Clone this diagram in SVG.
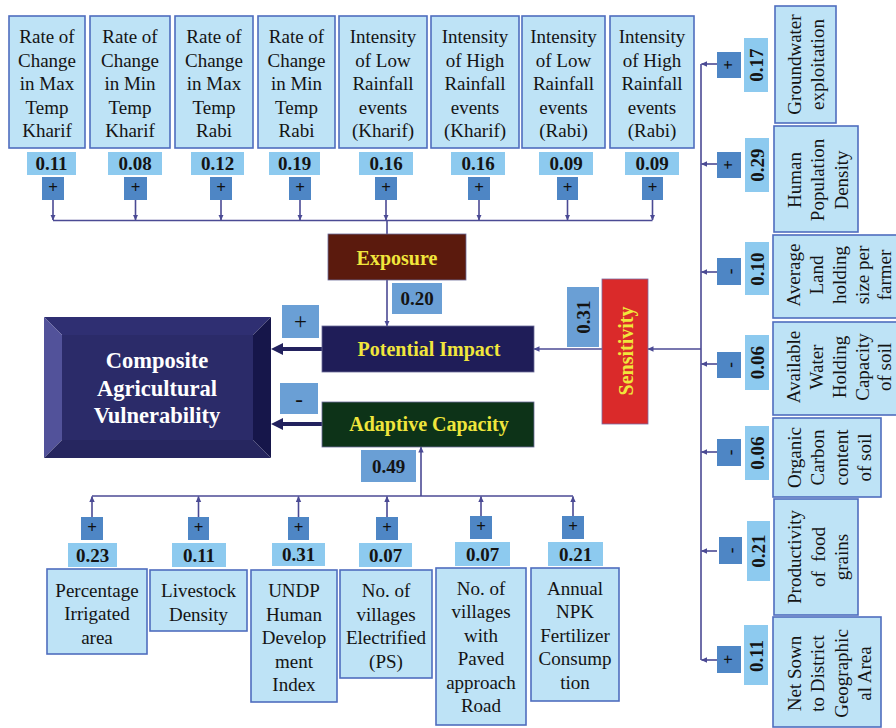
<svg xmlns="http://www.w3.org/2000/svg" width="896" height="728" viewBox="0 0 896 728">
  <defs>
    <style>
      .box { fill: #bee3f6; stroke: #4f6dbf; stroke-width: 1.6; }
      .w { fill: #8dcaef; }
      .sg { fill: #4e86c5; }
      .md { fill: #6a9fd5; }
      .t { font-family: "Liberation Serif", "Times New Roman", serif; font-size: 19px; fill: #141414; text-anchor: middle; }
      .b { font-weight: bold; }
      .sgt { font-family: "Liberation Serif", "Times New Roman", serif; font-size: 17px; font-weight: bold; fill: #111; text-anchor: middle; }
      .hd { font-family: "Liberation Serif", "Times New Roman", serif; font-size: 20px; font-weight: bold; fill: #f0e63c; text-anchor: middle; }
      .conn { stroke: #4b4a94; stroke-width: 1.6; fill: none; }
      .thick { stroke: #23225e; stroke-width: 4; fill: none; }
    </style>
    <marker id="tip" markerUnits="userSpaceOnUse" markerWidth="6" markerHeight="6" refX="5.5" refY="3" orient="auto">
      <path d="M0,0.3 L6,3 L0,5.7 z" fill="#4b4a94"/>
    </marker>
    <marker id="bigtip" markerUnits="userSpaceOnUse" markerWidth="13" markerHeight="13" refX="3" refY="6" orient="auto">
      <path d="M0,0 L12,6 L0,12 z" fill="#23225e"/>
    </marker>
  </defs>

  <rect width="896" height="728" fill="#ffffff"/>

  <!-- connectors -->
  <g id="connectors">
    <!-- exposure indicators down to the collector line -->
    <line class="conn" x1="53" y1="200" x2="53" y2="220" marker-end="url(#tip)"/>
    <line class="conn" x1="135.5" y1="200" x2="135.5" y2="220" marker-end="url(#tip)"/>
    <line class="conn" x1="221" y1="200" x2="221" y2="220" marker-end="url(#tip)"/>
    <line class="conn" x1="300" y1="200" x2="300" y2="220" marker-end="url(#tip)"/>
    <line class="conn" x1="386" y1="200" x2="386" y2="220" marker-end="url(#tip)"/>
    <line class="conn" x1="479" y1="200" x2="479" y2="220" marker-end="url(#tip)"/>
    <line class="conn" x1="567.5" y1="200" x2="567.5" y2="220" marker-end="url(#tip)"/>
    <line class="conn" x1="652.5" y1="200" x2="652.5" y2="220" marker-end="url(#tip)"/>
    <line class="conn" x1="53" y1="220.5" x2="652.5" y2="220.5"/>
    <line class="conn" x1="387" y1="220.5" x2="387" y2="234"/>
    <!-- exposure to potential impact -->
    <line class="conn" x1="387" y1="280" x2="387" y2="326" marker-end="url(#tip)"/>
    <!-- sensitivity branch -->
    <line class="conn" x1="701" y1="64" x2="701" y2="660"/>
    <line class="conn" x1="717" y1="64" x2="701.5" y2="64" marker-end="url(#tip)"/>
    <line class="conn" x1="717" y1="164" x2="701.5" y2="164" marker-end="url(#tip)"/>
    <line class="conn" x1="717" y1="272" x2="701.5" y2="272" marker-end="url(#tip)"/>
    <line class="conn" x1="717" y1="364" x2="701.5" y2="364" marker-end="url(#tip)"/>
    <line class="conn" x1="717" y1="452" x2="701.5" y2="452" marker-end="url(#tip)"/>
    <line class="conn" x1="717" y1="551" x2="701.5" y2="551" marker-end="url(#tip)"/>
    <line class="conn" x1="717" y1="660" x2="701.5" y2="660" marker-end="url(#tip)"/>
    <line class="conn" x1="701" y1="349" x2="648" y2="349" marker-end="url(#tip)"/>
    <line class="conn" x1="602" y1="349" x2="534" y2="349" marker-end="url(#tip)"/>
    <!-- adaptive capacity branch -->
    <line class="conn" x1="92" y1="496" x2="573" y2="496"/>
    <line class="conn" x1="92" y1="517" x2="92" y2="496.5" marker-end="url(#tip)"/>
    <line class="conn" x1="198.5" y1="517" x2="198.5" y2="496.5" marker-end="url(#tip)"/>
    <line class="conn" x1="298.5" y1="517" x2="298.5" y2="496.5" marker-end="url(#tip)"/>
    <line class="conn" x1="387" y1="517" x2="387" y2="496.5" marker-end="url(#tip)"/>
    <line class="conn" x1="481" y1="517" x2="481" y2="496.5" marker-end="url(#tip)"/>
    <line class="conn" x1="573" y1="517" x2="573" y2="496.5" marker-end="url(#tip)"/>
    <line class="conn" x1="421" y1="496" x2="421" y2="447" marker-end="url(#tip)"/>
    <!-- into the composite index -->
    <line class="thick" x1="322" y1="349" x2="280" y2="349" marker-end="url(#bigtip)"/>
    <line class="thick" x1="322" y1="424" x2="280" y2="424" marker-end="url(#bigtip)"/>
  </g>

  <!-- exposure indicators -->
  <g id="exp-maxtemp-kharif">
    <rect class="box" x="9" y="16" width="76" height="132"/>
    <text class="t"><tspan x="47" y="43">Rate of</tspan><tspan x="47" y="66.5">Change</tspan><tspan x="47" y="90">in Max</tspan><tspan x="47" y="113.5">Temp</tspan><tspan x="47" y="137">Kharif</tspan></text>
    <rect class="w" x="27" y="152" width="49" height="23"/>
    <text class="t b" x="51.5" y="170">0.11</text>
    <rect class="sg" x="42" y="177" width="22" height="23"/>
    <text class="sgt" x="53" y="193">+</text>
  </g>
  <g id="exp-mintemp-kharif">
    <rect class="box" x="90" y="16" width="80" height="132"/>
    <text class="t"><tspan x="130" y="43">Rate of</tspan><tspan x="130" y="66.5">Change</tspan><tspan x="130" y="90">in Min</tspan><tspan x="130" y="113.5">Temp</tspan><tspan x="130" y="137">Kharif</tspan></text>
    <rect class="w" x="108" y="152" width="54" height="23"/>
    <text class="t b" x="135" y="170">0.08</text>
    <rect class="sg" x="124" y="177" width="23" height="23"/>
    <text class="sgt" x="135.5" y="193">+</text>
  </g>
  <g id="exp-maxtemp-rabi">
    <rect class="box" x="175" y="16" width="78" height="132"/>
    <text class="t"><tspan x="214" y="43">Rate of</tspan><tspan x="214" y="66.5">Change</tspan><tspan x="214" y="90">in Max</tspan><tspan x="214" y="113.5">Temp</tspan><tspan x="214" y="137">Rabi</tspan></text>
    <rect class="w" x="191" y="152" width="53" height="23"/>
    <text class="t b" x="217.5" y="170">0.12</text>
    <rect class="sg" x="210" y="177" width="22" height="23"/>
    <text class="sgt" x="221" y="193">+</text>
  </g>
  <g id="exp-mintemp-rabi">
    <rect class="box" x="258" y="16" width="77" height="132"/>
    <text class="t"><tspan x="296.5" y="43">Rate of</tspan><tspan x="296.5" y="66.5">Change</tspan><tspan x="296.5" y="90">in Min</tspan><tspan x="296.5" y="113.5">Temp</tspan><tspan x="296.5" y="137">Rabi</tspan></text>
    <rect class="w" x="269" y="152" width="51" height="23"/>
    <text class="t b" x="294.5" y="170">0.19</text>
    <rect class="sg" x="289" y="177" width="22" height="23"/>
    <text class="sgt" x="300" y="193">+</text>
  </g>
  <g id="exp-lowrain-kharif">
    <rect class="box" x="339" y="16" width="88" height="132"/>
    <text class="t"><tspan x="383" y="43">Intensity</tspan><tspan x="383" y="66.5">of Low</tspan><tspan x="383" y="90">Rainfall</tspan><tspan x="383" y="113.5">events</tspan><tspan x="383" y="137">(Kharif)</tspan></text>
    <rect class="w" x="359" y="152" width="54" height="23"/>
    <text class="t b" x="386" y="170">0.16</text>
    <rect class="sg" x="375" y="177" width="22" height="23"/>
    <text class="sgt" x="386" y="193">+</text>
  </g>
  <g id="exp-highrain-kharif">
    <rect class="box" x="431" y="16" width="88" height="132"/>
    <text class="t"><tspan x="475" y="43">Intensity</tspan><tspan x="475" y="66.5">of High</tspan><tspan x="475" y="90">Rainfall</tspan><tspan x="475" y="113.5">events</tspan><tspan x="475" y="137">(Kharif)</tspan></text>
    <rect class="w" x="451" y="152" width="54" height="23"/>
    <text class="t b" x="478" y="170">0.16</text>
    <rect class="sg" x="468" y="177" width="22" height="23"/>
    <text class="sgt" x="479" y="193">+</text>
  </g>
  <g id="exp-lowrain-rabi">
    <rect class="box" x="522" y="16" width="83" height="132"/>
    <text class="t"><tspan x="563.5" y="43">Intensity</tspan><tspan x="563.5" y="66.5">of Low</tspan><tspan x="563.5" y="90">Rainfall</tspan><tspan x="563.5" y="113.5">events</tspan><tspan x="563.5" y="137">(Rabi)</tspan></text>
    <rect class="w" x="539" y="152" width="54" height="23"/>
    <text class="t b" x="566" y="170">0.09</text>
    <rect class="sg" x="557" y="177" width="21" height="23"/>
    <text class="sgt" x="567.5" y="193">+</text>
  </g>
  <g id="exp-highrain-rabi">
    <rect class="box" x="610" y="16" width="84" height="132"/>
    <text class="t"><tspan x="652" y="43">Intensity</tspan><tspan x="652" y="66.5">of High</tspan><tspan x="652" y="90">Rainfall</tspan><tspan x="652" y="113.5">events</tspan><tspan x="652" y="137">(Rabi)</tspan></text>
    <rect class="w" x="625" y="152" width="54" height="23"/>
    <text class="t b" x="652" y="170">0.09</text>
    <rect class="sg" x="642" y="177" width="21" height="23"/>
    <text class="sgt" x="652.5" y="193">+</text>
  </g>

  <!-- components -->
  <g id="exposure">
    <rect x="328" y="234" width="138" height="46" fill="#5b1a0d" stroke="#6b6b9a" stroke-width="0.8"/>
    <text class="hd" x="397" y="265">Exposure</text>
    <rect class="md" x="392" y="283" width="50" height="31"/>
    <text class="t b" x="417" y="305">0.20</text>
  </g>
  <g id="potential-impact">
    <rect x="322" y="326" width="212" height="46" fill="#1f1d58" stroke="#6b6b9a" stroke-width="0.8"/>
    <text class="hd" x="429" y="356">Potential Impact</text>
    <rect class="md" x="282" y="305" width="37" height="33"/>
    <text x="300.5" y="329" font-family="Liberation Serif, serif" font-size="23" fill="#111" text-anchor="middle">+</text>
  </g>
  <g id="adaptive-capacity">
    <rect x="322" y="402" width="212" height="45" fill="#0d3318" stroke="#6b6b9a" stroke-width="0.8"/>
    <text class="hd" x="429" y="431">Adaptive Capacity</text>
    <rect class="md" x="280" y="383" width="38" height="31"/>
    <text x="299" y="406.5" font-family="Liberation Serif, serif" font-size="23" fill="#111" text-anchor="middle">-</text>
    <rect class="md" x="361" y="450" width="55" height="32"/>
    <text class="t b" x="388.5" y="472.5">0.49</text>
  </g>
  <g id="sensitivity">
    <rect x="602" y="279" width="46" height="145" fill="#da2a2a" stroke="#7a6aa0" stroke-width="0.8"/>
    <text class="hd" transform="rotate(-90)" x="-351" y="633">Sensitivity</text>
    <rect class="md" x="567" y="287" width="32" height="60"/>
    <text class="t b" transform="rotate(-90)" x="-317" y="590">0.31</text>
  </g>

  <!-- composite index -->
  <g id="composite">
    <polygon points="44,317 271,317 253,335 62,335" fill="#2f2f72"/>
    <polygon points="44,317 62,335 62,440 44,458" fill="#52529a"/>
    <polygon points="271,317 271,458 253,440 253,335" fill="#16164a"/>
    <polygon points="44,458 62,440 253,440 271,458" fill="#26265f"/>
    <rect x="62" y="335" width="191" height="105" fill="#2b2b69"/>
    <text font-family="Liberation Serif, serif" font-size="22.5" font-weight="bold" fill="#ffffff" text-anchor="middle"><tspan x="157" y="368">Composite</tspan><tspan x="157" y="395.5">Agricultural</tspan><tspan x="157" y="423">Vulnerability</tspan></text>
  </g>

  <!-- sensitivity indicators -->
  <g id="sen-groundwater">
    <rect class="sg" x="717" y="52" width="24" height="26"/>
    <text class="sgt" transform="rotate(-90)" x="-65" y="734">+</text>
    <rect class="w" x="744" y="38" width="24" height="54"/>
    <text class="t b" transform="rotate(-90)" x="-65" y="762.5">0.17</text>
    <rect class="box" x="775" y="6" width="61" height="117"/>
    <text class="t" transform="rotate(-90)"><tspan x="-64.5" y="800.5">Groundwater</tspan><tspan x="-64.5" y="824">exploitation</tspan></text>
  </g>
  <g id="sen-population">
    <rect class="sg" x="717" y="152" width="24" height="26"/>
    <text class="sgt" transform="rotate(-90)" x="-165" y="734">+</text>
    <rect class="w" x="745" y="138" width="24" height="54"/>
    <text class="t b" transform="rotate(-90)" x="-165" y="763.5">0.29</text>
    <rect class="box" x="774" y="126" width="84" height="106"/>
    <text class="t" transform="rotate(-90)"><tspan x="-180" y="800.5">Human</tspan><tspan x="-180" y="824">Population</tspan><tspan x="-180" y="847.5">Density</tspan></text>
  </g>
  <g id="sen-landholding">
    <rect class="sg" x="717" y="258" width="24" height="27"/>
    <text class="sgt" transform="rotate(-90)" x="-271.5" y="735.5">-</text>
    <rect class="w" x="745" y="242" width="24" height="53"/>
    <text class="t b" transform="rotate(-90)" x="-269" y="763.5">0.10</text>
    <rect class="box" x="773" y="235" width="130" height="83"/>
    <text class="t" transform="rotate(-90)"><tspan x="-275" y="799.5">Average</tspan><tspan x="-275" y="822.5">Land</tspan><tspan x="-275" y="845.5">holding</tspan><tspan x="-275" y="868.5">size per</tspan><tspan x="-275" y="891">farmer</tspan></text>
  </g>
  <g id="sen-water-holding">
    <rect class="sg" x="717" y="352" width="24" height="26"/>
    <text class="sgt" transform="rotate(-90)" x="-365" y="735.5">-</text>
    <rect class="w" x="745" y="335" width="24" height="55"/>
    <text class="t b" transform="rotate(-90)" x="-362.5" y="763.5">0.06</text>
    <rect class="box" x="773" y="322" width="130" height="93"/>
    <text class="t" transform="rotate(-90)"><tspan x="-367" y="799.5">Available</tspan><tspan x="-367" y="822.5">Water</tspan><tspan x="-367" y="845.5">Holding</tspan><tspan x="-367" y="868.5">Capacity</tspan><tspan x="-367" y="891">of soil</tspan></text>
  </g>
  <g id="sen-organic-carbon">
    <rect class="sg" x="717" y="439" width="24" height="27"/>
    <text class="sgt" transform="rotate(-90)" x="-452.5" y="735.5">-</text>
    <rect class="w" x="745" y="426" width="24" height="54"/>
    <text class="t b" transform="rotate(-90)" x="-453" y="763.5">0.06</text>
    <rect class="box" x="773" y="418" width="108" height="79"/>
    <text class="t" transform="rotate(-90)"><tspan x="-457.5" y="800.5">Organic</tspan><tspan x="-457.5" y="824">Carbon</tspan><tspan x="-457.5" y="847.5">content</tspan><tspan x="-457.5" y="871">of soil</tspan></text>
  </g>
  <g id="sen-productivity">
    <rect class="sg" x="719" y="537" width="23" height="27"/>
    <text class="sgt" transform="rotate(-90)" x="-550.5" y="737">-</text>
    <rect class="w" x="747" y="521" width="23" height="60"/>
    <text class="t b" transform="rotate(-90)" x="-551" y="765">0.21</text>
    <rect class="box" x="774" y="499" width="84" height="116"/>
    <text class="t" transform="rotate(-90)"><tspan x="-557" y="801">Productivity</tspan><tspan x="-557" y="824.5" xml:space="preserve">of  food</tspan><tspan x="-557" y="848">grains</tspan></text>
  </g>
  <g id="sen-net-sown">
    <rect class="sg" x="717" y="646" width="24" height="27"/>
    <text class="sgt" transform="rotate(-90)" x="-659.5" y="734">+</text>
    <rect class="w" x="744" y="625" width="24" height="60"/>
    <text class="t b" transform="rotate(-90)" x="-656" y="762.5">0.11</text>
    <rect class="box" x="773" y="617" width="108" height="110"/>
    <text class="t" transform="rotate(-90)"><tspan x="-673.5" y="800.5">Net Sown</tspan><tspan x="-673.5" y="824">to District</tspan><tspan x="-673.5" y="847.5">Geographic</tspan><tspan x="-673.5" y="871">al Area</tspan></text>
  </g>

  <!-- adaptive capacity indicators -->
  <g id="ac-irrigated">
    <rect class="sg" x="81" y="517" width="22" height="23"/>
    <text class="sgt" x="92" y="533">+</text>
    <rect class="w" x="68" y="543" width="49" height="24"/>
    <text class="t b" x="92.5" y="561.5">0.23</text>
    <rect class="box" x="47" y="569" width="100" height="85"/>
    <text class="t"><tspan x="97" y="596.5">Percentage</tspan><tspan x="97" y="620">Irrigated</tspan><tspan x="97" y="643.5">area</tspan></text>
  </g>
  <g id="ac-livestock">
    <rect class="sg" x="188" y="517" width="21" height="23"/>
    <text class="sgt" x="198.5" y="533">+</text>
    <rect class="w" x="172" y="543" width="54" height="24"/>
    <text class="t b" x="199" y="561.5">0.11</text>
    <rect class="box" x="150" y="570" width="97" height="61"/>
    <text class="t"><tspan x="198.5" y="597">Livestock</tspan><tspan x="198.5" y="620.5">Density</tspan></text>
  </g>
  <g id="ac-hdi">
    <rect class="sg" x="288" y="517" width="21" height="23"/>
    <text class="sgt" x="298.5" y="533">+</text>
    <rect class="w" x="272" y="543" width="53" height="23"/>
    <text class="t b" x="298.5" y="561">0.31</text>
    <rect class="box" x="251" y="570" width="86" height="132"/>
    <text class="t"><tspan x="294" y="597">UNDP</tspan><tspan x="294" y="620.5">Human</tspan><tspan x="294" y="644">Develop</tspan><tspan x="294" y="667.5">ment</tspan><tspan x="294" y="691">Index</tspan></text>
  </g>
  <g id="ac-electrified">
    <rect class="sg" x="376" y="517" width="22" height="23"/>
    <text class="sgt" x="387" y="533">+</text>
    <rect class="w" x="359" y="543" width="53" height="24"/>
    <text class="t b" x="385.5" y="561.5">0.07</text>
    <rect class="box" x="340" y="570" width="92" height="108"/>
    <text class="t"><tspan x="386" y="597">No. of</tspan><tspan x="386" y="620.5">villages</tspan><tspan x="386" y="644">Electrified</tspan><tspan x="386" y="667.5">(PS)</tspan></text>
  </g>
  <g id="ac-paved-road">
    <rect class="sg" x="470" y="516" width="22" height="23"/>
    <text class="sgt" x="481" y="532">+</text>
    <rect class="w" x="455" y="542" width="55" height="24"/>
    <text class="t b" x="482.5" y="560.5">0.07</text>
    <rect class="box" x="436" y="568" width="90" height="157"/>
    <text class="t"><tspan x="481" y="594.5">No. of</tspan><tspan x="481" y="618">villages</tspan><tspan x="481" y="641.5">with</tspan><tspan x="481" y="665">Paved</tspan><tspan x="481" y="688.5">approach</tspan><tspan x="481" y="712">Road</tspan></text>
  </g>
  <g id="ac-npk">
    <rect class="sg" x="562" y="516" width="22" height="23"/>
    <text class="sgt" x="573" y="532">+</text>
    <rect class="w" x="548" y="542" width="55" height="24"/>
    <text class="t b" x="575.5" y="560.5">0.21</text>
    <rect class="box" x="531" y="568" width="88" height="133"/>
    <text class="t"><tspan x="575" y="594.5">Annual</tspan><tspan x="575" y="618">NPK</tspan><tspan x="575" y="641.5">Fertilizer</tspan><tspan x="575" y="665">Consump</tspan><tspan x="575" y="688.5">tion</tspan></text>
  </g>
</svg>
